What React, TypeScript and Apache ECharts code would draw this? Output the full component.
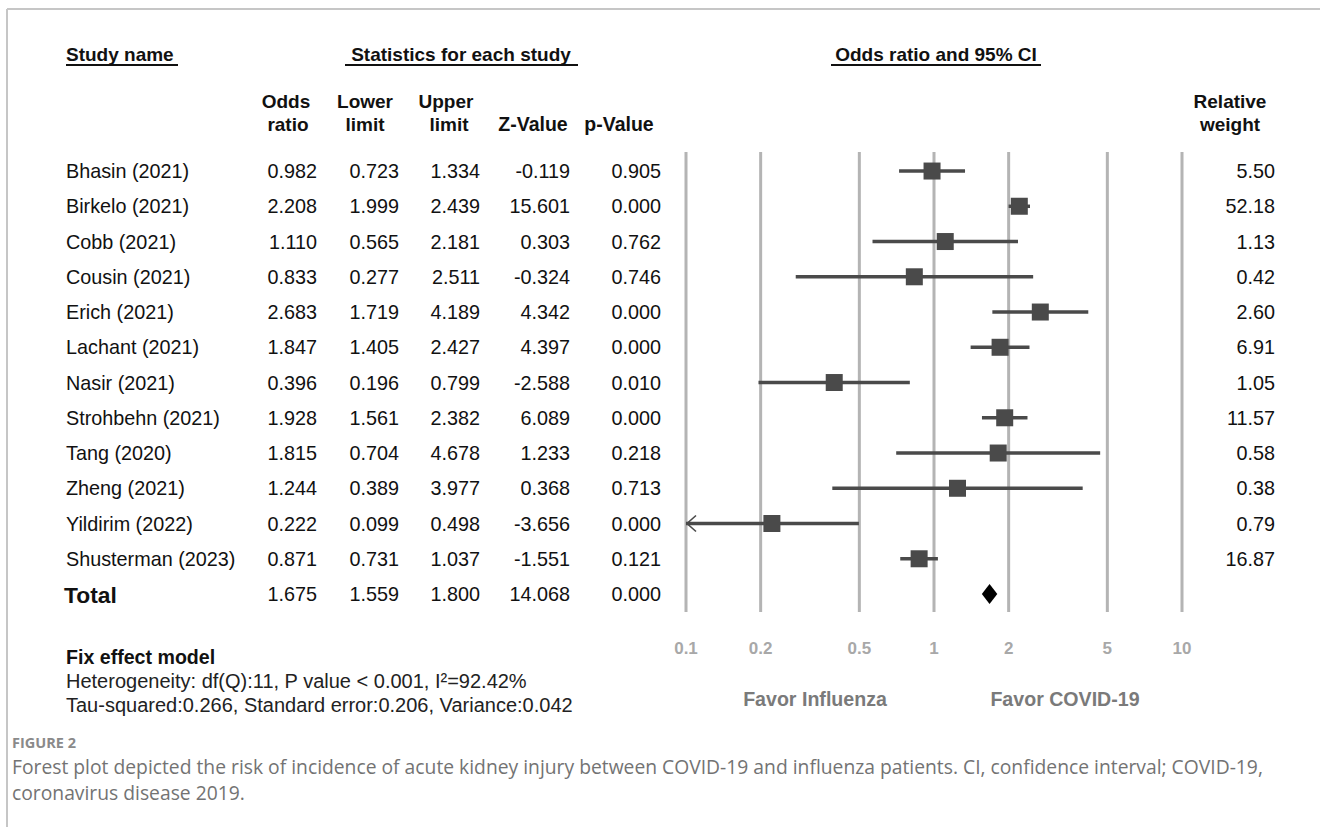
import React, { useEffect, useRef } from "react";
import * as echarts from "echarts";

const studies = [
  "Bhasin (2021)", "Birkelo (2021)", "Cobb (2021)", "Cousin (2021)", "Erich (2021)",
  "Lachant (2021)", "Nasir (2021)", "Strohbehn (2021)", "Tang (2020)", "Zheng (2021)",
  "Yildirim (2022)", "Shusterman (2023)",
];
const oddsRatio = [0.982, 2.208, 1.110, 0.833, 2.683, 1.847, 0.396, 1.928, 1.815, 1.244, 0.222, 0.871];
const lowerLimit = [0.723, 1.999, 0.565, 0.277, 1.719, 1.405, 0.196, 1.561, 0.704, 0.389, 0.099, 0.731];
const upperLimit = [1.334, 2.439, 2.181, 2.511, 4.189, 2.427, 0.799, 2.382, 4.678, 3.977, 0.498, 1.037];
const zValue = [-0.119, 15.601, 0.303, -0.324, 4.342, 4.397, -2.588, 6.089, 1.233, 0.368, -3.656, -1.551];
const pValue = [0.905, 0.000, 0.762, 0.746, 0.000, 0.000, 0.010, 0.000, 0.218, 0.713, 0.000, 0.121];
const relWeight = [5.50, 52.18, 1.13, 0.42, 2.60, 6.91, 1.05, 11.57, 0.58, 0.38, 0.79, 16.87];
const totalLabel = "Total";
const totalStats = [1.675, 1.559, 1.800, 14.068, 0.000];
const axisTicks = [0.1, 0.2, 0.5, 1, 2, 5, 10];
const axisTickLabels = ["0.1", "0.2", "0.5", "1", "2", "5", "10"];

const FONT = "'Liberation Sans', Arial, sans-serif";
const CAPFONT = "'Open Sans', sans-serif";
const TXT = "#111";
const MARK = "#4a4a4a";
const GRIDC = "#b4b4b4";
const Y_MIN = -0.54;
const Y_MAX = 12.51;

function t(x: number, y: number, text: string, font: string, align = "left", fill = TXT, vAlign = "middle") {
  return { type: "text", x, y, style: { text, font, textAlign: align, textVerticalAlign: vAlign, fill } };
}

export default function App() {
  const ref = useRef<HTMLDivElement>(null);
  useEffect(() => {
    if (!ref.current) return;
    const chart = echarts.init(ref.current, null, { renderer: "svg" });

    const rowCount = studies.length + 1;
    const tableData = Array.from({ length: rowCount }, (_, i) => [1, i]);
    const forestData = studies.map((_, i) => [oddsRatio[i], lowerLimit[i], upperLimit[i], i]);
    const totalData = [[totalStats[0], totalStats[1], totalStats[2], studies.length]];
    const gridData = axisTicks.map((v, i) => [v, i]);

    const bold = (s: number) => `bold ${s}px ${FONT}`;
    const reg = (s: number) => `${s}px ${FONT}`;

    const option: any = {
      animation: false,
      grid: { left: 686, right: 138, top: 152, height: 460 },
      xAxis: { type: "log", logBase: 10, min: 0.1, max: 10, show: false },
      yAxis: { type: "value", min: Y_MIN, max: Y_MAX, inverse: true, show: false },
      series: [
        {
          type: "custom",
          coordinateSystem: "cartesian2d",
          clip: false,
          silent: true,
          data: gridData,
          renderItem: (params: any, api: any) => {
            const v = api.value(0);
            const idx = api.value(1);
            const top = api.coord([v, Y_MIN]);
            const bot = api.coord([v, Y_MAX]);
            return {
              type: "group",
              children: [
                { type: "line", shape: { x1: top[0], y1: top[1], x2: bot[0], y2: bot[1] }, style: { stroke: GRIDC, lineWidth: 3 } },
                t(bot[0], bot[1] + 36, axisTickLabels[idx], bold(17), "center", "#a8a8a8"),
              ],
            };
          },
        },
        {
          type: "custom",
          coordinateSystem: "cartesian2d",
          clip: false,
          silent: true,
          data: forestData,
          renderItem: (params: any, api: any) => {
            const or = api.value(0);
            const lo = api.value(1);
            const hi = api.value(2);
            const row = api.value(3);
            const clipped = lo < 0.1;
            const pLo = api.coord([clipped ? 0.1 : lo, row]);
            const pHi = api.coord([hi, row]);
            const pOr = api.coord([or, row]);
            const half = 8.5;
            const children: any[] = [
              { type: "line", shape: { x1: pLo[0], y1: pLo[1], x2: pHi[0], y2: pHi[1] }, style: { stroke: MARK, lineWidth: 3.5 } },
              { type: "rect", shape: { x: pOr[0] - half, y: pOr[1] - half, width: half * 2, height: half * 2 }, style: { fill: MARK } },
            ];
            if (clipped) {
              children.push({
                type: "polyline",
                shape: { points: [[pLo[0] + 10, pLo[1] - 8], [pLo[0] + 1, pLo[1]], [pLo[0] + 10, pLo[1] + 8]] },
                style: { stroke: MARK, lineWidth: 1.6, fill: "none" },
              });
            }
            return { type: "group", children };
          },
        },
        {
          type: "custom",
          coordinateSystem: "cartesian2d",
          clip: false,
          silent: true,
          data: totalData,
          renderItem: (params: any, api: any) => {
            const or = api.value(0);
            const lo = api.value(1);
            const hi = api.value(2);
            const row = api.value(3);
            const pLo = api.coord([lo, row]);
            const pHi = api.coord([hi, row]);
            const pOr = api.coord([or, row]);
            return {
              type: "polygon",
              shape: { points: [[pLo[0], pOr[1]], [pOr[0], pOr[1] - 10], [pHi[0], pOr[1]], [pOr[0], pOr[1] + 10]] },
              style: { fill: "#000" },
            };
          },
        },
        {
          type: "custom",
          coordinateSystem: "cartesian2d",
          clip: false,
          silent: true,
          data: tableData,
          renderItem: (params: any, api: any) => {
            const i = params.dataIndex;
            const y = api.coord([1, api.value(1)])[1];
            const isTotal = i === studies.length;
            const f = reg(19.8);
            if (isTotal) {
              return {
                type: "group",
                children: [
                  t(64, y + 1, totalLabel, bold(22.8)),
                  t(317, y, totalStats[0].toFixed(3), f, "right"),
                  t(399, y, totalStats[1].toFixed(3), f, "right"),
                  t(480, y, totalStats[2].toFixed(3), f, "right"),
                  t(570, y, totalStats[3].toFixed(3), f, "right"),
                  t(661, y, totalStats[4].toFixed(3), f, "right"),
                ],
              };
            }
            return {
              type: "group",
              children: [
                t(66, y, studies[i], f),
                t(317, y, oddsRatio[i].toFixed(3), f, "right"),
                t(399, y, lowerLimit[i].toFixed(3), f, "right"),
                t(480, y, upperLimit[i].toFixed(3), f, "right"),
                t(570, y, zValue[i].toFixed(3), f, "right"),
                t(661, y, pValue[i].toFixed(3), f, "right"),
                t(1275, y, relWeight[i].toFixed(2), f, "right"),
              ],
            };
          },
        },
      ],
      graphic: [
        { type: "line", shape: { x1: 7, y1: 9, x2: 1320, y2: 9 }, style: { stroke: "#c6c6c6", lineWidth: 2 } },
        { type: "line", shape: { x1: 7, y1: 9, x2: 7, y2: 827 }, style: { stroke: "#c6c6c6", lineWidth: 2 } },
        t(66, 54, "Study name", bold(19)),
        { type: "line", shape: { x1: 66, y1: 65, x2: 178, y2: 65 }, style: { stroke: "#111", lineWidth: 2 } },
        t(461, 54, "Statistics for each study", bold(19), "center"),
        { type: "line", shape: { x1: 345, y1: 65, x2: 578, y2: 65 }, style: { stroke: "#111", lineWidth: 2 } },
        t(936, 54, "Odds ratio and 95% CI", bold(19), "center"),
        { type: "line", shape: { x1: 831, y1: 65, x2: 1041, y2: 65 }, style: { stroke: "#111", lineWidth: 2 } },
        t(286, 101, "Odds", bold(19), "center"),
        t(288, 124, "ratio", bold(19), "center"),
        t(365, 101, "Lower", bold(19), "center"),
        t(365, 124, "limit", bold(19), "center"),
        t(446, 101, "Upper", bold(19), "center"),
        t(449, 124, "limit", bold(19), "center"),
        t(533, 124, "Z-Value", bold(19.5), "center"),
        t(619, 124, "p-Value", bold(19.5), "center"),
        t(1230, 101, "Relative", bold(19), "center"),
        t(1230, 124, "weight", bold(19), "center"),
        t(66, 657, "Fix effect model", bold(19.6)),
        t(66, 681, "Heterogeneity: df(Q):11, P value < 0.001, I\u00B2=92.42%", reg(20), "left", "#222"),
        t(66, 705, "Tau-squared:0.266, Standard error:0.206, Variance:0.042", reg(20), "left", "#222"),
        t(815, 699, "Favor Influenza", bold(19.6), "center", "#7a7a7a"),
        t(1065, 699, "Favor COVID-19", bold(19.6), "center", "#7a7a7a"),
        t(12, 742, "FIGURE 2", `bold 14.5px ${CAPFONT}`, "left", "#8a8a8a"),
        t(12, 766, "Forest plot depicted the risk of incidence of acute kidney injury between COVID-19 and influenza patients. CI, confidence interval; COVID-19,", `19.3px ${CAPFONT}`, "left", "#737373"),
        t(12, 792, "coronavirus disease 2019.", `19.3px ${CAPFONT}`, "left", "#737373"),
      ],
    };
    chart.setOption(option);
    return () => chart.dispose();
  }, []);
  return <div ref={ref} style={{ position: "fixed", left: 0, top: 0, width: 1320, height: 827, background: "#fff" }} />;
}
